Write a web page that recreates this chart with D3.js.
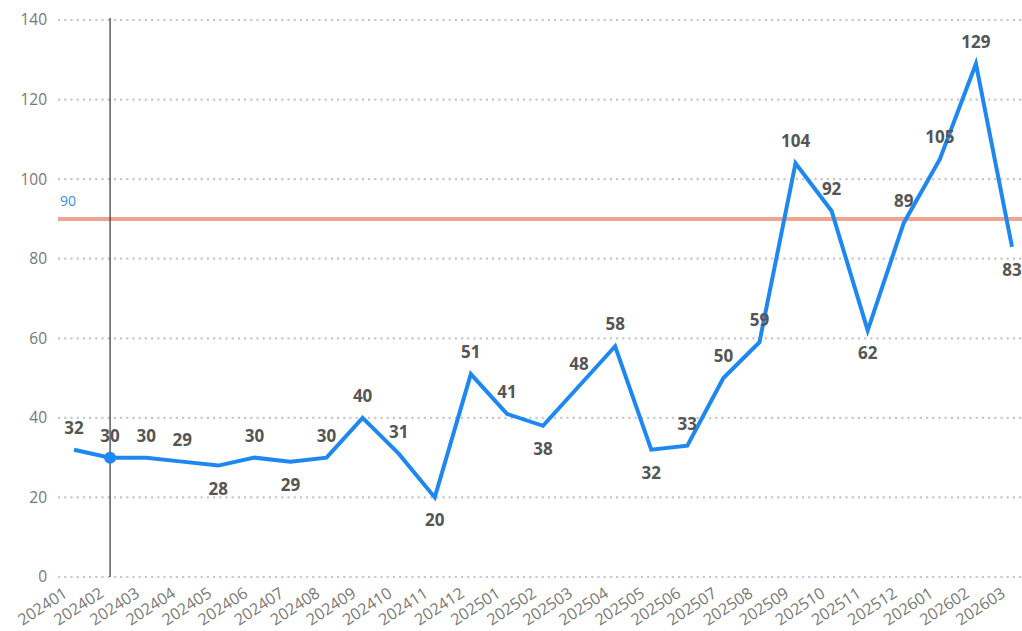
<!DOCTYPE html>
<html><head><meta charset="utf-8">
<script src="https://cdn.jsdelivr.net/npm/d3@7/dist/d3.min.js"></script>
<style>body{margin:0;background:#fff;} svg{display:block;font-family:"Open Sans",sans-serif;}</style>
</head><body>
<svg id="c" width="1022" height="631"></svg>
<script>
const categories = ["202401","202402","202403","202404","202405","202406","202407","202408","202409","202410","202411","202412","202501","202502","202503","202504","202505","202506","202507","202508","202509","202510","202511","202512","202601","202602","202603"];
const values = [32,30,30,29,28,30,29,30,40,31,20,51,41,38,48,58,32,33,50,59,104,92,62,89,105,129,83];
const labelSide = [-1,-1,-1,-1,1,-1,1,-1,-1,-1,1,-1,-1,1,-1,-1,1,-1,-1,-1,-1,-1,1,-1,-1,-1,1];
const yTicks = [0,20,40,60,80,100,120,140];
const targetValue = 90;
const highlightIndex = 1;

const svg = d3.select("#c");
const x = d3.scalePoint().domain(categories).range([74, 1012]);
const y = d3.scaleLinear().domain([0, 140]).range([577, 20]);

// grid
svg.append("g").selectAll("line").data(yTicks).join("line")
  .attr("x1", 58).attr("x2", 1022)
  .attr("y1", d => y(d)).attr("y2", d => y(d))
  .attr("stroke", "#c8c8c8").attr("stroke-width", 2.2).attr("stroke-dasharray", "2.2,4");

// y axis
const yAxis = d3.axisLeft(y).tickValues(yTicks).tickSize(0).tickPadding(0);
const yg = svg.append("g").attr("transform", "translate(47,0)").call(yAxis);
yg.select(".domain").remove();
yg.selectAll("text").attr("fill", "#777").attr("font-size", 15.5).attr("font-family", "Open Sans, sans-serif");

// x axis
const xAxis = d3.axisBottom(x).tickSize(0).tickPadding(0);
const xg = svg.append("g").attr("transform", "translate(0,577)").call(xAxis);
xg.select(".domain").remove();
xg.selectAll("text")
  .attr("fill", "#777").attr("font-size", 16).attr("font-family", "Open Sans, sans-serif")
  .attr("text-anchor", "end").attr("dy", 0).attr("y", 0)
  .attr("transform", "translate(-6,19) rotate(-33)");

// target line
svg.append("line").attr("x1", 58).attr("x2", 1022)
  .attr("y1", y(targetValue)).attr("y2", y(targetValue))
  .attr("stroke", "#eea48e").attr("stroke-width", 4);
svg.append("text").attr("x", 60).attr("y", y(targetValue) - 13)
  .attr("fill", "#3b90e8").attr("font-size", 14).text(targetValue);

// crosshair
svg.append("line").attr("x1", x(categories[highlightIndex])).attr("x2", x(categories[highlightIndex]))
  .attr("y1", y(140) - 2).attr("y2", y(0)).attr("stroke", "#333").attr("stroke-width", 1.2);

// line
const line = d3.line().x((d, i) => x(categories[i])).y(d => y(d));
svg.append("path").datum(values).attr("d", line)
  .attr("fill", "none").attr("stroke", "#1e88f0").attr("stroke-width", 4).attr("stroke-linejoin", "miter");

svg.append("circle").attr("cx", x(categories[highlightIndex])).attr("cy", y(values[highlightIndex]))
  .attr("r", 6).attr("fill", "#1e88f0");

// labels
svg.append("g").selectAll("text").data(values).join("text")
  .attr("x", (d, i) => x(categories[i]))
  .attr("y", (d, i) => y(d) + (labelSide[i] < 0 ? -22 : 23))
  .attr("dy", "0.35em")
  .attr("text-anchor", "middle")
  .attr("font-size", 17).attr("font-weight", "bold").attr("fill", "#555")
  .text(d => d);
</script>
</body></html>
